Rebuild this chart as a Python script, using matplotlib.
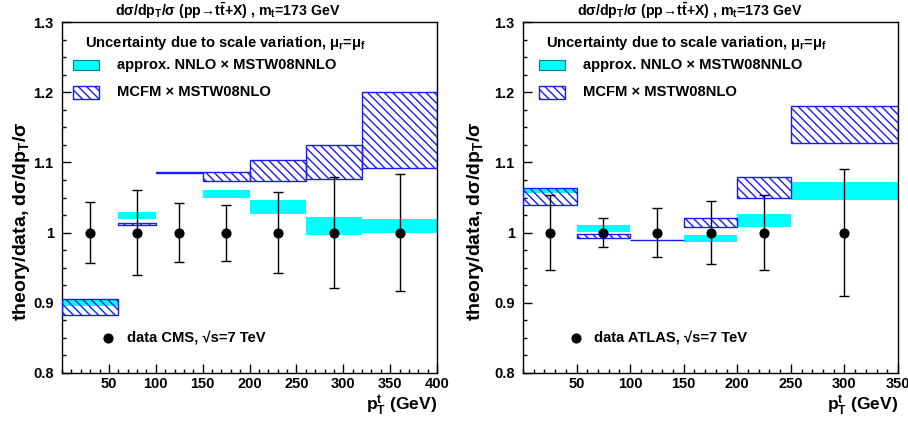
import numpy as np
import matplotlib
matplotlib.use("Agg")
import matplotlib.pyplot as plt
from matplotlib.patches import Rectangle
from matplotlib.lines import Line2D
from matplotlib.ticker import MultipleLocator, FixedLocator, FixedFormatter

plt.rcParams['font.family'] = ['Liberation Sans', 'DejaVu Sans']
plt.rcParams['font.weight'] = 'bold'
plt.rcParams['mathtext.fontset'] = 'custom'
plt.rcParams['mathtext.default'] = 'regular'
plt.rcParams['hatch.linewidth'] = 1.0

nan = np.nan

# ---------------- CMS (left) ----------------
cms_edges = [0, 60, 100, 150, 200, 260, 320, 400]
cms_x = [30, 80, 125, 175, 230, 290, 360]
cms_y = [1, 1, 1, 1, 1, 1, 1]
cms_err = [0.044, 0.060, 0.042, 0.040, 0.058, 0.079, 0.083]
cms_nnlo_lo = [0.895, 1.019, nan, 1.050, 1.027, 0.997, 0.999]
cms_nnlo_hi = [0.905, 1.030, nan, 1.060, 1.047, 1.022, 1.020]
cms_mcfm_lo = [0.883, 1.0115, 1.0845, 1.073, 1.073, 1.076, 1.092]
cms_mcfm_hi = [0.905, 1.013, 1.086, 1.086, 1.103, 1.125, 1.200]

# ---------------- ATLAS (right) ----------------
atlas_edges = [0, 50, 100, 150, 200, 250, 350]
atlas_x = [25, 75, 125, 175, 225, 300]
atlas_y = [1, 1, 1, 1, 1, 1]
atlas_err = [0.053, 0.021, 0.0345, 0.045, 0.053, 0.091]
atlas_nnlo_lo = [1.057, 1.001, nan, 0.986, 1.0074, 1.0463]
atlas_nnlo_hi = [1.063, 1.0105, nan, 0.9964, 1.0264, 1.072]
atlas_mcfm_lo = [1.0387, 0.993, 0.989, 1.0083, 1.0496, 1.127]
atlas_mcfm_hi = [1.063, 0.998, 0.990, 1.0202, 1.079, 1.1806]

ytick_vals = [0.8, 0.9, 1.0, 1.1, 1.2, 1.3]
ytick_labels = ['0.8', '0.9', '1', '1.1', '1.2', '1.3']

title = r'd$\sigma$/d$p_T$/$\sigma$ (pp→t$\bar{t}$+X) , $m_t$=173 GeV'
unc_text = r'Uncertainty due to scale variation, $\mu_r$=$\mu_f$'
nnlo_label = 'approx. NNLO × MSTW08NNLO'
mcfm_label = 'MCFM × MSTW08NLO'

W, H = 908, 429
fig = plt.figure(figsize=(W / 100, H / 100), dpi=100)

CYAN = '#00ffff'
BLUE = '#1a1aff'

FS_TICK = 10.5
FS_LEG = 10.6


def panel(ax_px, edges, xs, ys, errs, nlo, nhi, mlo, mhi, xmax, xticks,
          data_label, leg):
    x0, x1, ytop, ybot = ax_px
    ax = fig.add_axes([x0 / W, 1 - ybot / H, (x1 - x0) / W, (ybot - ytop) / H])
    edges = np.asarray(edges, float)
    lefts = edges[:-1]
    widths = np.diff(edges)
    nlo = np.asarray(nlo); nhi = np.asarray(nhi)
    mlo = np.asarray(mlo); mhi = np.asarray(mhi)
    ok = ~np.isnan(nlo)
    ax.bar(lefts[ok], (nhi - nlo)[ok], width=widths[ok], bottom=nlo[ok],
           align='edge', color=CYAN, edgecolor='none', linewidth=0, zorder=2)
    ax.bar(lefts, mhi - mlo, width=widths, bottom=mlo, align='edge',
           facecolor='none', edgecolor=BLUE, hatch='\\\\\\\\', linewidth=1.0,
           zorder=3)
    ax.errorbar(xs, ys, yerr=errs, fmt='o', color='black', ms=6.3,
                elinewidth=1.0, capsize=3.4, capthick=1.0, zorder=5)
    ax.set_xlim(0, xmax)
    ax.set_ylim(0.8, 1.3)
    ax.yaxis.set_major_locator(FixedLocator(ytick_vals))
    ax.yaxis.set_major_formatter(FixedFormatter(ytick_labels))
    ax.yaxis.set_minor_locator(MultipleLocator(0.025))
    ax.xaxis.set_major_locator(FixedLocator(xticks))
    ax.xaxis.set_major_formatter(FixedFormatter([str(t) for t in xticks]))
    ax.xaxis.set_minor_locator(MultipleLocator(10))
    ax.tick_params(which='both', direction='in', top=False, right=False,
                   width=1.0, color='black')
    ax.tick_params(which='major', length=6.7)
    ax.tick_params(which='minor', length=3.0)
    ax.tick_params(axis='y', which='major', pad=6.0, labelsize=FS_TICK)
    ax.tick_params(axis='x', which='major', pad=3.0, labelsize=FS_TICK)
    for lab in ax.get_xticklabels() + ax.get_yticklabels():
        lab.set_fontweight('bold')
    for s in ax.spines.values():
        s.set_linewidth(1.0)
        s.set_color('black')

    # legend (manual, ROOT-like)
    def fx(px):
        return (px - x0) / (x1 - x0)

    def fy(py):
        return (ybot - py) / (ybot - ytop)

    ax.text(fx(leg['unc_x']), fy(43), unc_text, transform=ax.transAxes,
            fontsize=FS_LEG, fontweight='bold', ha='left', va='center')
    bx0, bx1 = leg['box_x']
    ax.add_patch(Rectangle((fx(bx0), fy(70)), fx(bx1) - fx(bx0), fy(60) - fy(70),
                           transform=ax.transAxes, facecolor=CYAN,
                           edgecolor='#008080', linewidth=0.8, clip_on=False))
    ax.add_patch(Rectangle((fx(bx0), fy(99)), fx(bx1) - fx(bx0), fy(86) - fy(99),
                           transform=ax.transAxes, facecolor='none',
                           edgecolor=BLUE, hatch='\\\\\\\\', linewidth=1.0,
                           clip_on=False))
    ax.text(fx(leg['txt_x']), fy(65), nnlo_label, transform=ax.transAxes,
            fontsize=FS_LEG, fontweight='bold', ha='left', va='center')
    ax.text(fx(leg['txt_x']), fy(92), mcfm_label, transform=ax.transAxes,
            fontsize=FS_LEG, fontweight='bold', ha='left', va='center')
    ax.add_line(Line2D([fx(leg['dot_x'])], [fy(338)], transform=ax.transAxes,
                       marker='o', ms=6.3, color='black', linestyle='none'))
    ax.text(fx(leg['dtxt_x']), fy(338), data_label, transform=ax.transAxes,
            fontsize=FS_LEG, fontweight='bold', ha='left', va='center')
    return ax


axL = panel((62, 437, 22, 373), cms_edges, cms_x, cms_y, cms_err,
            cms_nnlo_lo, cms_nnlo_hi, cms_mcfm_lo, cms_mcfm_hi, 400,
            [50, 100, 150, 200, 250, 300, 350, 400],
            'data CMS, √s=7 TeV',
            dict(unc_x=85, box_x=(73, 99), txt_x=117, dot_x=108, dtxt_x=127))
axR = panel((523, 898, 22, 373), atlas_edges, atlas_x, atlas_y, atlas_err,
            atlas_nnlo_lo, atlas_nnlo_hi, atlas_mcfm_lo, atlas_mcfm_hi, 350,
            [50, 100, 150, 200, 250, 300, 350],
            'data ATLAS, √s=7 TeV',
            dict(unc_x=546, box_x=(539, 565), txt_x=583, dot_x=576, dtxt_x=594))

# titles
fig.text(228 / W, 1 - 11 / H, title, ha='center', va='center',
         fontsize=10.2, fontweight='bold')
fig.text(690 / W, 1 - 11 / H, title, ha='center', va='center',
         fontsize=10.2, fontweight='bold')

# y labels
ylab = r'theory/data, d$\sigma$/d$p_T$/$\sigma$'
fig.text(22 / W, 1 - 221 / H, ylab, rotation=90, ha='center', va='center',
         fontsize=14.0, fontweight='bold')
fig.text(475 / W, 1 - 221 / H, ylab, rotation=90, ha='center', va='center',
         fontsize=14.0, fontweight='bold')

# x labels
xlab = r'$p^t_T$ (GeV)'
fig.text(437 / W, 1 - 406 / H, xlab, ha='right', va='center',
         fontsize=12.5, fontweight='bold')
fig.text(898 / W, 1 - 406 / H, xlab, ha='right', va='center',
         fontsize=12.5, fontweight='bold')

fig.savefig('out.png', dpi=100)
